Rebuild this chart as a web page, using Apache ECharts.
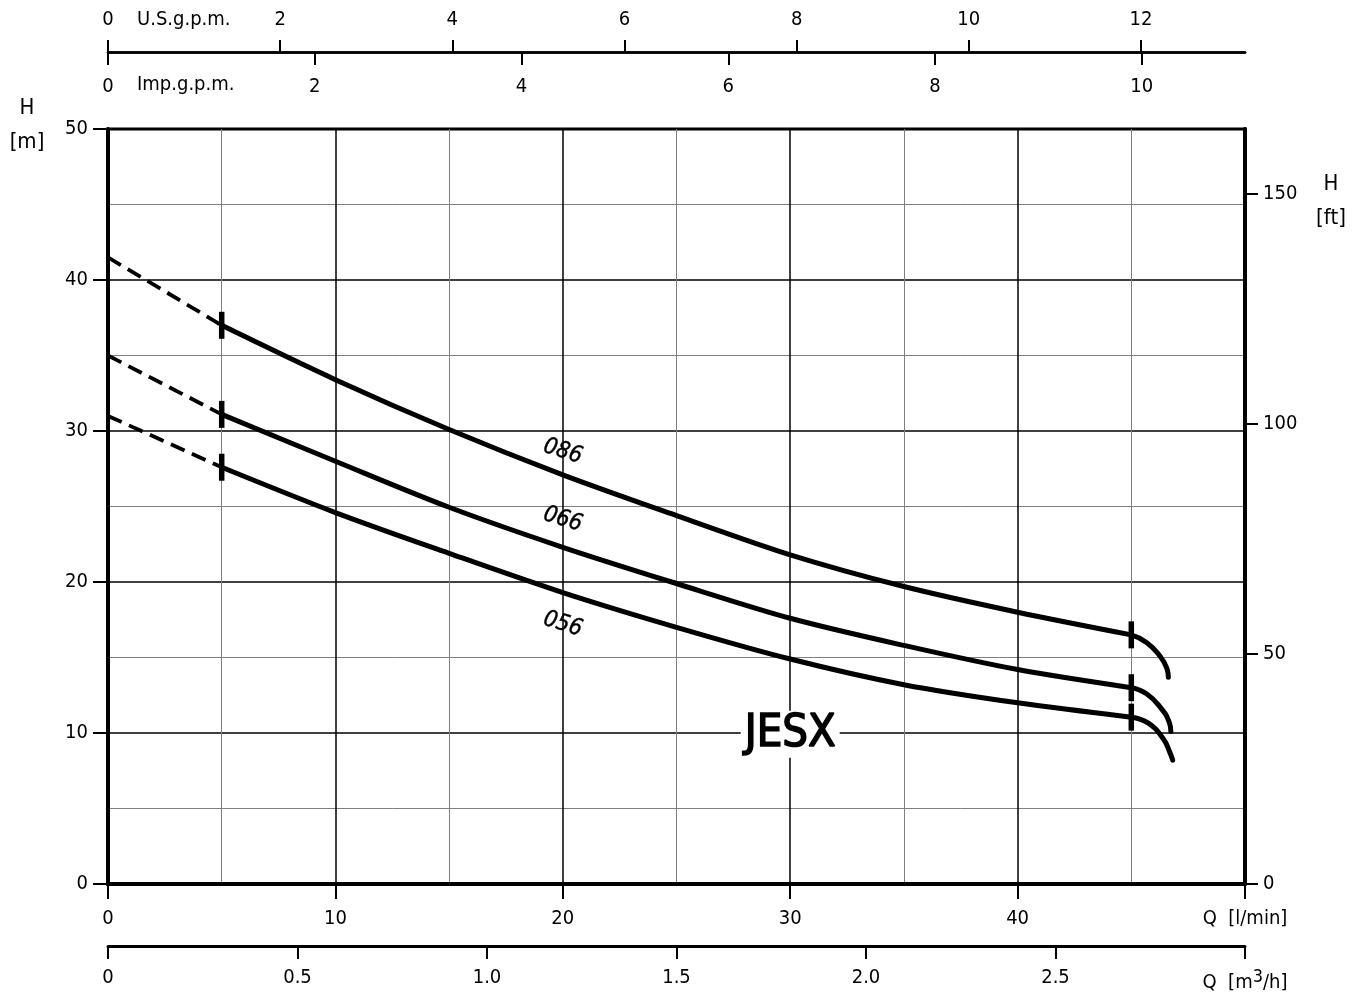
<!DOCTYPE html>
<html><head><meta charset="utf-8">
<script src="https://cdn.jsdelivr.net/npm/echarts@6/dist/echarts.min.js"></script>
<style>html,body{margin:0;padding:0;background:#fff}#c{width:1365px;height:993px}</style>
</head><body><div id="c"></div>
<script>
// ---- data ----
const qDash = [0, 5];
const qMain = [5, 10, 15, 20, 25, 30, 35, 40, 45];

const h086Dash = [41.5, 37.0];
const h086Main = [37.0, 33.4, 30.1, 27.1, 24.4, 21.8, 19.7, 18.0, 16.5];
const q086Drop = [45, 45.67, 46.26, 46.56, 46.63];
const h086Drop = [16.5, 16.0, 15.1, 14.3, 13.7];

const h066Dash = [35.0, 31.1];
const h066Main = [31.1, 28.0, 24.95, 22.3, 19.9, 17.6, 15.8, 14.2, 13.0];
const q066Drop = [45, 45.67, 46.33, 46.67, 46.74];
const h066Drop = [13.0, 12.6, 11.6, 10.7, 10.1];

const h056Dash = [31.0, 27.6];
const h056Main = [27.6, 24.6, 21.9, 19.3, 17.0, 14.9, 13.2, 12.0, 11.05];
const q056Drop = [45, 45.75, 46.41, 46.7, 46.82];
const h056Drop = [11.05, 10.65, 9.6, 8.7, 8.2];

const modelNames = ['086', '066', '056'];
const chartTitle = 'JESX';

const usGpmTicks = [0, 2, 4, 6, 8, 10, 12];
const impGpmTicks = [0, 2, 4, 6, 8, 10];
const m3hTicks = [0, 0.5, 1.0, 1.5, 2.0, 2.5, 3.0];
const hftTicks = [0, 50, 100, 150];

// unit conversions
const Q_MAX = 50, H_MAX = 50;
const L_PER_USGAL = 3.78541, L_PER_IMPGAL = 4.54609, L_MIN_PER_M3H = 1000 / 60, M_PER_FT = 0.3048;

// ---- chart ----
const FONT = "'DejaVu Sans Condensed', 'Liberation Sans Narrow', 'DejaVu Sans', sans-serif";
const zip = (xs, ys) => xs.map((x, i) => [x, ys[i]]);

const curves = [
  { name: modelNames[0], dash: h086Dash, main: h086Main, dq: q086Drop, dh: h086Drop, lab: [20, 28.64] },
  { name: modelNames[1], dash: h066Dash, main: h066Main, dq: q066Drop, dh: h066Drop, lab: [20, 24.14] },
  { name: modelNames[2], dash: h056Dash, main: h056Main, dq: q056Drop, dh: h056Drop, lab: [20, 17.2] }
];

const series = [];
const lineBase = { type: 'line', xAxisIndex: 0, yAxisIndex: 0, showSymbol: false, silent: true, z: 5 };
curves.forEach(c => {
  series.push(Object.assign({}, lineBase, {
    data: zip(qDash, c.dash),
    lineStyle: { color: '#000', width: 3.8, type: [15, 8], cap: 'butt' }
  }));
  series.push(Object.assign({}, lineBase, {
    data: zip(qMain, c.main), smooth: 0.3,
    lineStyle: { color: '#000', width: 5, cap: 'round' }
  }));
  series.push(Object.assign({}, lineBase, {
    data: zip(c.dq, c.dh), smooth: 0.5,
    lineStyle: { color: '#000', width: 5, cap: 'round' }
  }));
  // short vertical marks at the ends of the recommended range
  series.push({
    type: 'scatter', xAxisIndex: 0, yAxisIndex: 0, silent: true, z: 6,
    symbol: 'rect', symbolSize: [5.5, 27], itemStyle: { color: '#000', opacity: 1 },
    data: [[qMain[0], c.main[0]], [qMain[qMain.length - 1], c.main[c.main.length - 1]]]
  });
  // model label
  series.push({
    type: 'scatter', xAxisIndex: 0, yAxisIndex: 0, silent: true, z: 7,
    symbolSize: 0, itemStyle: { opacity: 1 },
    data: [{ value: c.lab, name: c.name }],
    label: {
      show: true, position: 'inside', formatter: '{b}', rotate: -17,
      fontFamily: FONT, fontStyle: 'italic', fontSize: 23, color: '#000',
      textBorderColor: '#000', textBorderWidth: 0.4
    }
  });
});
series.push({
  type: 'scatter', xAxisIndex: 0, yAxisIndex: 0, silent: true, z: 7,
  symbolSize: 0, itemStyle: { opacity: 1 },
  data: [{ value: [30, 9.92], name: chartTitle }],
  label: {
    show: true, position: 'inside', formatter: '{b}',
    fontFamily: FONT, fontSize: 45, color: '#000',
    textBorderColor: '#000', textBorderWidth: 1.6,
    backgroundColor: '#fff', padding: [1, 4, 1, 4]
  }
});

const lab = (extra) => Object.assign({ fontFamily: FONT, fontSize: 20, color: '#000' }, extra);

const option = {
  animation: false,
  backgroundColor: '#fff',
  grid: { left: 108, right: 120, top: 129, bottom: 108, show: true, borderColor: '#000', borderWidth: 3, backgroundColor: 'transparent' },
  xAxis: [
    { // l/min
      type: 'value', position: 'bottom', min: 0, max: Q_MAX, interval: 10,
      axisLine: { show: true, onZero: false, lineStyle: { color: '#000', width: 4 } },
      axisTick: { show: true, length: 15, lineStyle: { color: '#000', width: 2 } },
      axisLabel: lab({ margin: 25, showMaxLabel: true,
        formatter: v => v === Q_MAX ? 'Q  [l/min]' : String(v) }),
      splitLine: { show: true, lineStyle: { color: '#000', width: 1.5 } },
      minorTick: { show: false, splitNumber: 2 },
      minorSplitLine: { show: true, lineStyle: { color: '#808080', width: 1 } }
    },
    { // m3/h
      type: 'value', position: 'bottom', offset: 62, min: 0, max: Q_MAX / L_MIN_PER_M3H, interval: 0.5,
      axisLine: { show: true, onZero: false, lineStyle: { color: '#000', width: 3 } },
      axisTick: { show: true, length: 13, customValues: m3hTicks, lineStyle: { color: '#000', width: 2 } },
      axisLabel: lab({ margin: 22, customValues: m3hTicks,
        formatter: v => v === 0 ? '0' : (Math.abs(v - 3) < 1e-9 ? 'Q  [m{sup|3}/h]' : v.toFixed(1)),
        rich: { sup: { fontFamily: FONT, fontSize: 18, color: '#000', padding: [0, 0, 12, 0] } } }),
      splitLine: { show: false }
    },
    { // US gpm
      type: 'value', position: 'top', offset: 77, min: 0, max: Q_MAX / L_PER_USGAL, interval: 2,
      axisLine: { show: true, onZero: false, lineStyle: { color: '#000', width: 2.5 } },
      axisTick: { show: true, length: 12, customValues: usGpmTicks, lineStyle: { color: '#000', width: 2 } },
      axisLabel: lab({ margin: 22, customValues: usGpmTicks, formatter: v => String(v) }),
      splitLine: { show: false }
    },
    { // Imp gpm
      type: 'value', position: 'top', offset: 77, min: 0, max: Q_MAX / L_PER_IMPGAL, interval: 2,
      axisLine: { show: true, onZero: false, lineStyle: { color: '#000', width: 2.5 } },
      axisTick: { show: true, inside: true, length: 13, customValues: impGpmTicks, lineStyle: { color: '#000', width: 2 } },
      axisLabel: lab({ inside: true, margin: 25, customValues: impGpmTicks, formatter: v => String(v) }),
      splitLine: { show: false }
    }
  ],
  yAxis: [
    { // m
      type: 'value', position: 'left', min: 0, max: H_MAX, interval: 10,
      axisLine: { show: true, onZero: false, lineStyle: { color: '#000', width: 4 } },
      axisTick: { show: true, length: 15, lineStyle: { color: '#000', width: 2 } },
      axisLabel: lab({ margin: 20 }),
      splitLine: { show: true, lineStyle: { color: '#000', width: 1.5 } },
      minorTick: { show: false, splitNumber: 2 },
      minorSplitLine: { show: true, lineStyle: { color: '#808080', width: 1 } }
    },
    { // ft
      type: 'value', position: 'right', min: 0, max: H_MAX / M_PER_FT, interval: 50,
      axisLine: { show: true, onZero: false, lineStyle: { color: '#000', width: 4 } },
      axisTick: { show: true, length: 13, customValues: hftTicks, lineStyle: { color: '#000', width: 2 } },
      axisLabel: lab({ margin: 18, customValues: hftTicks, formatter: v => String(v) }),
      splitLine: { show: false }
    }
  ],
  graphic: [
    { type: 'text', left: 137, top: 10, style: { text: 'U.S.g.p.m.', font: "20px " + FONT, fill: '#000' } },
    { type: 'text', left: 137, top: 75, style: { text: 'Imp.g.p.m.', font: "20px " + FONT, fill: '#000' } },
    { type: 'text', x: 27, y: 91, style: { text: 'H\n[m]', font: "22px " + FONT, fill: '#000', align: 'center', lineHeight: 34 } },
    { type: 'text', x: 1331, y: 167, style: { text: 'H\n[ft]', font: "22px " + FONT, fill: '#000', align: 'center', lineHeight: 34 } }
  ],
  series: series
};

const chart = echarts.init(document.getElementById('c'), null, { renderer: 'canvas' });
chart.setOption(option);
</script>
</body></html>
